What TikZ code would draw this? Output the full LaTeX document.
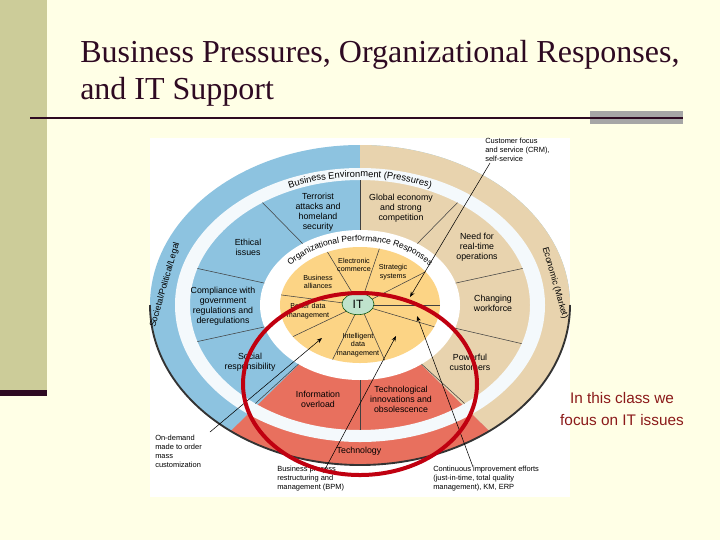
\documentclass[tikz,border=0pt]{standalone}
\usepackage{fontspec}
\setmainfont{Liberation Serif}
\setsansfont{Liberation Sans}
\usetikzlibrary{decorations.text,arrows.meta,shapes.geometric}
\definecolor{slidebg}{HTML}{FFFFE6}
\definecolor{strip}{HTML}{CCCC99}
\definecolor{darkpurp}{HTML}{2E0A22}
\definecolor{pblue}{HTML}{8DC3E0}
\definecolor{ptan}{HTML}{E8D3AE}
\definecolor{pred}{HTML}{E8705E}
\definecolor{pyel}{HTML}{FCD485}
\definecolor{ringw}{HTML}{F4F9FC}
\definecolor{itgreen}{HTML}{BFE3CC}
\definecolor{circred}{HTML}{C00010}
\definecolor{notered}{HTML}{8B1A1A}
\tikzset{
  lab/.style={font=\sffamily\fontsize{6.6}{7.6}\selectfont,align=center,inner sep=0pt},
  ylab/.style={font=\sffamily\fontsize{5.4}{6.4}\selectfont,align=center,inner sep=0pt},
  small/.style={font=\sffamily\fontsize{5.6}{6.6}\selectfont,align=left,inner sep=0pt,anchor=north west},
  sep/.style={draw=black!75,line width=0.4pt},
  leader/.style={draw=black,line width=0.4pt,-{Stealth[length=4pt,width=3pt]}},
  plain/.style={draw=black,line width=0.4pt}
}
\begin{document}
\begin{tikzpicture}[x=0.75pt,y=0.75pt]
\useasboundingbox (0,0) rectangle (720,-540);
\fill[slidebg] (0,0) rectangle (720,-540);
\fill[strip] (0,0) rectangle (47,-390);
\fill[darkpurp] (0,-390) rectangle (47,-396);
\node[anchor=base west,inner sep=0pt,font=\fontsize{24}{28}\selectfont,text=darkpurp] (t1) at (80,-62) {Business Pressures, Organizational Responses,};
\node[anchor=base west,inner sep=0pt,font=\fontsize{24}{28}\selectfont,text=darkpurp] (t2) at (80,-99) {and IT Support};
\fill[black!35] (590,-111) rectangle (683,-124);
\draw[darkpurp,line width=1.6pt] (30,-118) -- (683,-118);
\fill[white] (150,-138) rectangle (570,-497);
\begin{scope}[shift={(360,-305)}]
 % outer disc
 \fill[pblue] (0,0) ellipse[x radius=210,y radius=160];
 \fill[ptan] (0,0) -- (90:210 and 160) arc[start angle=90,end angle=-52,x radius=210,y radius=160] -- cycle;
 \fill[pred] (0,0) -- (-52:210 and 160) arc[start angle=-52,end angle=-128,x radius=210,y radius=160] -- cycle;
 \draw[black!80,line width=1.4pt] (180:210 and 160) arc[start angle=180,end angle=360,x radius=210,y radius=160];
 % white ring
 \fill[ringw,even odd rule] (0,0) ellipse[x radius=185,y radius=137] (0,0) ellipse[x radius=170,y radius=125];
 % responses ring
 \fill[white] (0,0) ellipse[x radius=100,y radius=75];
 \fill[pyel] (0,0) ellipse[x radius=80,y radius=58];
 % pressure separators
 \foreach \a in {90,125,163,-163,-128,-90,-52,-18,17,55}
   \draw[sep] (\a:100 and 75) -- (\a:170 and 125);
 % yellow separators
 \foreach \a in {114,76,35,0,170,-147,-110,-72,-22}
   \draw[sep] (\a:11 and 7.5) -- (\a:80 and 58);
 \node[draw=black!70!green,fill=itgreen,ellipse,minimum width=24,minimum height=16,inner sep=0pt,font=\sffamily\fontsize{9}{10}\selectfont] (it) at (-2,1) {IT};
 % curved labels
 \path[decorate,decoration={text along path,text align=center,text={|\sffamily\fontsize{7}{8}\selectfont|Business Environment (Pressures)}}]
   (120:174 and 128) arc[start angle=120,end angle=60,x radius=174,y radius=128];
 \path[decorate,decoration={text along path,text align=center,text={|\sffamily\fontsize{6.4}{7}\selectfont|Organizational Performance Responses}}]
   (155:88 and 64) arc[start angle=155,end angle=25,x radius=88,y radius=64];
 \node[lab,rotate=74] (soc) at (-195,20) {Societal/Political/Legal};
 \node[lab,rotate=-74] (eco) at (195,22) {Economic (Market)};
 % pressure labels
 \node[lab] (terr) at (-42,93) {Terrorist\\attacks and\\homeland\\security};
 \node[lab] (glob) at (41,97) {Global economy\\and strong\\competition};
 \node[lab] (eth) at (-112,58) {Ethical\\issues};
 \node[lab] (need) at (117,58) {Need for\\real-time\\operations};
 \node[lab] (comp) at (-137,-1) {Compliance with\\government\\regulations and\\deregulations};
 \node[lab] (chg) at (133,2) {Changing\\workforce};
 \node[lab] (socr) at (-110,-57) {Social\\responsibility};
 \node[lab] (pow) at (110,-57) {Powerful\\customers};
 \node[lab] (info) at (-42,-94) {Information\\overload};
 \node[lab] (tech) at (41,-94) {Technological\\innovations and\\obsolescence};
 \node[lab] (techn) at (-1,-146) {Technology};
 % response labels
 \node[ylab] (ec) at (-6,40) {Electronic\\commerce};
 \node[ylab] (ss) at (33,33) {Strategic\\systems};
 \node[ylab] (ba) at (-42,23) {Business\\alliances};
 \node[ylab] (bd) at (-52,-6) {Better data\\management};
 \node[ylab] (idm) at (-2,-40) {Intelligent\\data\\management};
 % outside labels
 \node[small] (cust) at (125,167) {Customer focus\\and service (CRM),\\self-service};
 \node[small] (ond) at (-205,-130) {On-demand\\made to order\\mass\\customization};
 \node[small] (bpm) at (-83,-161) {Business process\\restructuring and\\management (BPM)};
 \node[small] (cont) at (73,-161) {Continuous improvement efforts\\(just-in-time, total quality\\management), KM, ERP};
 \coordinate (tc) at (50,8);
 \coordinate (to) at (-38,-33);
 \coordinate (tb) at (36,-31);
 \coordinate (tk) at (57,-11);
 \draw[leader] (130,142) -- (tc);
 \draw[leader] (-150,-127) -- (to);
 \draw[leader] (-37,-168) -- (tb);
 \draw[leader] (113,-162) -- (tk);
 % red highlight
 \draw[circred,line width=3pt] (0,-79) ellipse[x radius=117,y radius=91];
\end{scope}
\node[font=\sffamily\fontsize{11.5}{16.5}\selectfont,text=notered,align=center] (note) at (622,-409) {In this class we\\focus on IT issues};
\end{tikzpicture}
\end{document}
